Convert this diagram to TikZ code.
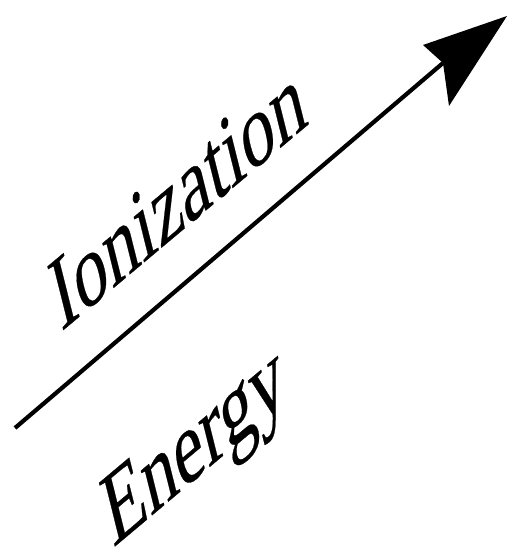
\documentclass[tikz,border=0pt]{standalone}
\usepackage{fontspec}
\newfontfamily\lblfont{Liberation Serif}[FakeBold=0.35]
\begin{document}
\begin{tikzpicture}[x=1pt,y=-1pt]
\useasboundingbox (0,0) rectangle (511,556);
\tikzset{
  lbl/.style={font=\lblfont\fontsize{80}{80}\selectfont, inner sep=0pt, anchor=base west,
    cm={0.766,0.643,-0.302,1.211,(0,0)}, transform shape},
  axisline/.style={line width=4.2pt, draw=black},
  headfill/.style={fill=black}
}
\coordinate (start) at (15,428);
\coordinate (tip) at (507,16);
\coordinate (c1) at (423,45);
\coordinate (notch) at (443,63);
\coordinate (c2) at (449,106);
\draw[axisline] (start) -- (notch);
\fill[headfill] (tip) -- (c1) -- (notch) -- (c2) -- cycle;
\node[lbl] (ion) at (61,332) {Ionization};
\node[lbl] (en) at (113,548) {Energy};
\end{tikzpicture}
\end{document}
